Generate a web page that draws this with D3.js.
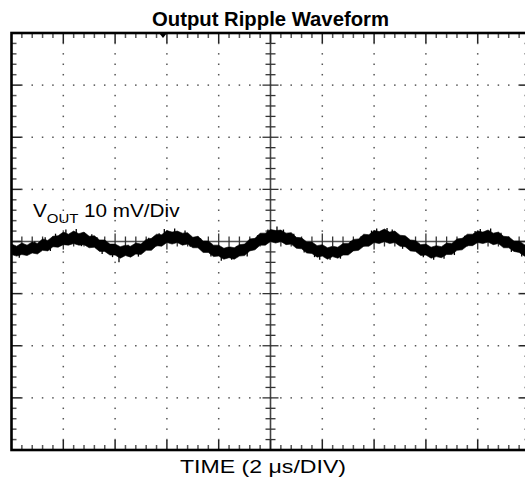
<!DOCTYPE html>
<html>
<head>
<meta charset="utf-8">
<script src="https://cdn.jsdelivr.net/npm/d3@7"></script>
<style>
  body { margin: 0; background: #fff; }
  text { font-family: "Liberation Sans", Arial, sans-serif; }
</style>
</head>
<body>
<div id="chart"></div>
<script>
// scope settings: 2 us/div horizontally, 10 mV/div vertically
var title = 'Output Ripple Waveform'
var xLabel = 'TIME (2 \u03bcs/DIV)'
var xDivs = [0, 2, 4, 6, 8, 10, 12, 14, 16, 18, 20]          // us
var yDivs = [-40, -30, -20, -10, 0, 10, 20, 30, 40]           // mV
var triggerT = 5.85

// trace envelope, every 0.2 us (mV)
var traceT = d3.range(0, 20.01, 0.2)
var traceHi = [-0.5, -0.9, -0.3, -0.7, -0.1, -0.4, 0.5, 0.2, 1.0, 1.1,
    1.8, 1.4, 2.0, 1.5, 1.8, 1.0, 1.1, 0.3, 0.3, -0.5,
    -0.5, -1.0, -0.7, -0.9, -0.3, -0.5, 0.4, 0.6, 1.4, 1.3,
    2.1, 1.8, 2.0, 1.6, 1.7, 0.8, 1.0, 0.1, 0.1, -0.7,
    -0.7, -1.3, -1.0, -1.2, -0.6, -0.5, 0.5, 0.6, 1.6, 1.6,
    2.3, 2.1, 2.2, 1.6, 1.7, 0.8, 0.7, -0.1, -0.1, -0.8,
    -0.6, -1.2, -0.9, -1.1, -0.4, -0.4, 0.4, 0.5, 1.4, 1.3,
    2.1, 1.9, 2.4, 1.8, 2.0, 1.2, 1.1, 0.3, 0.2, -0.6,
    -0.5, -1.1, -0.8, -1.0, -0.3, -0.4, 0.5, 0.6, 1.4, 1.4,
    2.0, 1.8, 2.2, 1.6, 1.8, 1.0, 0.9, 0.1, 0.1, -0.6,
    -0.6]
var traceLo = [-2.5, -2.8, -2.5, -2.7, -2.2, -2.4, -1.7, -1.8, -1.0, -1.1,
    -0.6, -0.7, -0.4, -0.7, -0.6, -1.2, -1.1, -1.9, -1.9, -2.6,
    -2.6, -3.2, -2.7, -3.0, -2.4, -2.5, -1.7, -1.7, -0.8, -0.9,
    -0.2, -0.5, -0.2, -0.7, -0.5, -1.2, -1.2, -2.1, -2.1, -2.9,
    -2.8, -3.4, -3.1, -3.4, -2.8, -2.7, -1.8, -1.6, -0.7, -0.7,
    0.0, -0.3, 0.0, -0.6, -0.5, -1.3, -1.4, -2.2, -2.3, -3.0,
    -2.8, -3.4, -2.9, -3.2, -2.6, -2.6, -1.8, -1.7, -0.9, -0.9,
    -0.2, -0.4, 0.0, -0.4, -0.2, -0.9, -1.0, -1.8, -1.9, -2.7,
    -2.6, -3.2, -2.9, -3.1, -2.5, -2.5, -1.7, -1.6, -0.8, -0.8,
    -0.2, -0.4, -0.1, -0.6, -0.4, -1.2, -1.2, -1.9, -2.1, -2.8,
    -2.9]
// noise spikes poking out of the band: [t, from, to] (mV)
var spikes = [[0.3, -1.6, -3.1], [0.9, -1.2, 0.0], [1.3, -0.6, 0.8], [1.5, -0.3, -1.8],
    [1.7, 0.0, 1.5], [2.1, 0.5, 2.3], [2.5, 0.6, 2.4], [2.7, 0.5, -0.9],
    [3.1, 0.0, 1.4], [3.3, -0.4, 0.8], [3.5, -0.8, -2.4], [3.9, -1.5, -3.0],
    [4.15, -1.8, -4.0], [4.5, -1.8, -0.6], [4.9, -1.4, -2.9], [5.3, -0.6, 0.7],
    [5.7, 0.2, 1.6], [5.9, 0.5, 2.4], [6.3, 0.8, 2.5], [6.7, 0.5, 2.1],
    [6.9, 0.2, -1.0], [7.3, -0.5, 0.6], [7.7, -1.4, -2.9], [8.1, -2.0, -3.7],
    [8.5, -2.2, -3.5], [8.7, -2.0, -0.9], [9.1, -1.2, -2.9], [9.5, 0.0, 1.2],
    [9.9, 0.8, 2.3], [10.25, 1.0, 2.9], [10.5, 0.8, 2.3], [10.9, 0.2, 1.5],
    [11.3, -0.7, -2.1], [11.7, -1.5, -3.0], [11.9, -1.8, -3.5], [12.3, -2.1, -3.5],
    [12.7, -1.8, -3.3], [13.1, -1.1, 0.1], [13.5, -0.2, 1.0], [13.9, 0.6, 2.1],
    [14.1, 0.8, 2.5], [14.5, 1.0, 2.6], [14.7, 0.8, 2.3], [15.1, 0.1, -1.4],
    [15.5, -0.8, 0.2], [15.9, -1.6, -3.0], [16.3, -2.0, -3.5], [16.7, -1.8, -3.3],
    [17.1, -1.1, -2.6], [17.5, -0.2, 1.1], [17.9, 0.6, 2.0], [18.1, 0.8, 2.4],
    [18.5, 0.9, 2.5], [18.9, 0.3, 1.7], [19.3, -0.6, -2.0], [19.7, -1.4, -2.9]]

var margin = {top: 33, left: 11.5}
var width = 518
var height = 417

var svg = d3.select('#chart')
    .append('svg')
    .attr('width', 525)
    .attr('height', 481)

var x = d3.scaleLinear().domain([0, 20]).range([margin.left, margin.left + width])
var y = d3.scaleLinear().domain([-40, 40]).range([margin.top + height, margin.top])

var minorX = d3.range(0, 20.001, 0.4)
var minorY = d3.range(-40, 40.001, 2)

// dotted graticule
var grid = svg.append('g').attr('fill', '#555')
xDivs.slice(1, -1).filter(d => d !== 10).forEach(xd => {
    grid.selectAll(null)
        .data(minorY.filter(v => yDivs.indexOf(v) < 0))
        .enter().append('rect')
        .attr('x', x(xd) - 0.75)
        .attr('y', d => y(d) - 0.75)
        .attr('width', 1.5)
        .attr('height', 1.5)
})
yDivs.slice(1, -1).filter(d => d !== 0).forEach(yd => {
    grid.selectAll(null)
        .data(minorX.filter(v => v > 0 && v < 20))
        .enter().append('rect')
        .attr('x', d => x(d) - 0.75)
        .attr('y', y(yd) - 0.75)
        .attr('width', 1.5)
        .attr('height', 1.5)
})

// centre cross
var cx = x(10), cy = y(0)
svg.append('line').attr('x1', cx).attr('x2', cx).attr('y1', y(40)).attr('y2', y(-40))
    .attr('stroke', '#444').attr('stroke-width', 1.6)
svg.append('line').attr('x1', x(0)).attr('x2', x(20)).attr('y1', cy).attr('y2', cy)
    .attr('stroke', '#555').attr('stroke-width', 1.6)

svg.append('g').selectAll('line')
    .data(minorY.filter(v => v > -40 && v < 40 && v !== 0))
    .enter().append('line')
    .attr('x1', d => cx - (yDivs.indexOf(d) >= 0 ? 8 : 5))
    .attr('x2', d => cx + (yDivs.indexOf(d) >= 0 ? 8 : 5))
    .attr('y1', d => y(d)).attr('y2', d => y(d))
    .attr('stroke', '#333').attr('stroke-width', 1.3)
svg.append('g').selectAll('line')
    .data(minorX.filter(v => v > 0 && v < 20 && v !== 10))
    .enter().append('line')
    .attr('x1', d => x(d)).attr('x2', d => x(d))
    .attr('y1', d => cy - (xDivs.indexOf(d) >= 0 ? 8 : 5))
    .attr('y2', d => cy + (xDivs.indexOf(d) >= 0 ? 8 : 5))
    .attr('stroke', '#333').attr('stroke-width', 1.3)

// border ticks (inward)
var bt = svg.append('g')
minorX.filter(v => v > 0 && v < 20).forEach(v => {
    var major = xDivs.indexOf(v) >= 0
    var len = major ? 10 : 5
    bt.append('line').attr('x1', x(v)).attr('x2', x(v))
        .attr('y1', y(40)).attr('y2', y(40) + len)
        .attr('stroke', major ? '#222' : '#555').attr('stroke-width', 1.5)
    bt.append('line').attr('x1', x(v)).attr('x2', x(v))
        .attr('y1', y(-40)).attr('y2', y(-40) - len)
        .attr('stroke', major ? '#222' : '#555').attr('stroke-width', 1.5)
})
minorY.filter(v => v > -40 && v < 40).forEach(v => {
    var major = yDivs.indexOf(v) >= 0
    var len = major ? 10 : 5
    bt.append('line').attr('x1', x(0)).attr('x2', x(0) + len)
        .attr('y1', y(v)).attr('y2', y(v))
        .attr('stroke', major ? '#222' : '#555').attr('stroke-width', 1.5)
    bt.append('line').attr('x1', x(20)).attr('x2', x(20) - len)
        .attr('y1', y(v)).attr('y2', y(v))
        .attr('stroke', major ? '#222' : '#555').attr('stroke-width', 1.5)
})

// trace
var trace = traceT.map((t, i) => ({t: t, hi: traceHi[i], lo: traceLo[i]}))
svg.append('path')
    .datum(trace)
    .attr('fill', '#000')
    .attr('stroke', '#000')
    .attr('stroke-width', 0.6)
    .attr('d', d3.area().x(d => x(d.t)).y0(d => y(d.lo)).y1(d => y(d.hi)))
svg.append('g').selectAll('line')
    .data(spikes)
    .enter().append('line')
    .attr('x1', d => x(d[0])).attr('x2', d => x(d[0]))
    .attr('y1', d => y(d[1])).attr('y2', d => y(d[2]))
    .attr('stroke', '#000').attr('stroke-width', 1.3)

// frame
svg.append('rect')
    .attr('x', x(0)).attr('y', y(40))
    .attr('width', x(20) - x(0)).attr('height', y(-40) - y(40))
    .attr('fill', 'none').attr('stroke', '#000').attr('stroke-width', 2.6)

// trigger marker
svg.append('path')
    .attr('d', `M${x(triggerT) - 4},${y(40)} L${x(triggerT) + 4},${y(40)} L${x(triggerT)},${y(40) + 5} Z`)
    .attr('fill', '#000')

// labels (reference glyphs are a bit wider than Liberation Sans)
svg.append('text')
    .attr('x', 152).attr('y', 26)
    .attr('font-size', 20).attr('font-weight', 'bold')
    .attr('textLength', 237).attr('lengthAdjust', 'spacingAndGlyphs')
    .text(title)

svg.append('text')
    .attr('x', 180).attr('y', 473)
    .attr('font-size', 18)
    .attr('textLength', 166).attr('lengthAdjust', 'spacingAndGlyphs')
    .text(xLabel)

var vlab = svg.append('text')
    .attr('transform', 'translate(33,217) scale(1.15,1)')
    .attr('font-size', 18)
vlab.append('tspan').text('V')
vlab.append('tspan').attr('font-size', 13).attr('dy', 6).text('OUT')
vlab.append('tspan').attr('dy', -6).text(' 10 mV/Div')
</script>
</body>
</html>
